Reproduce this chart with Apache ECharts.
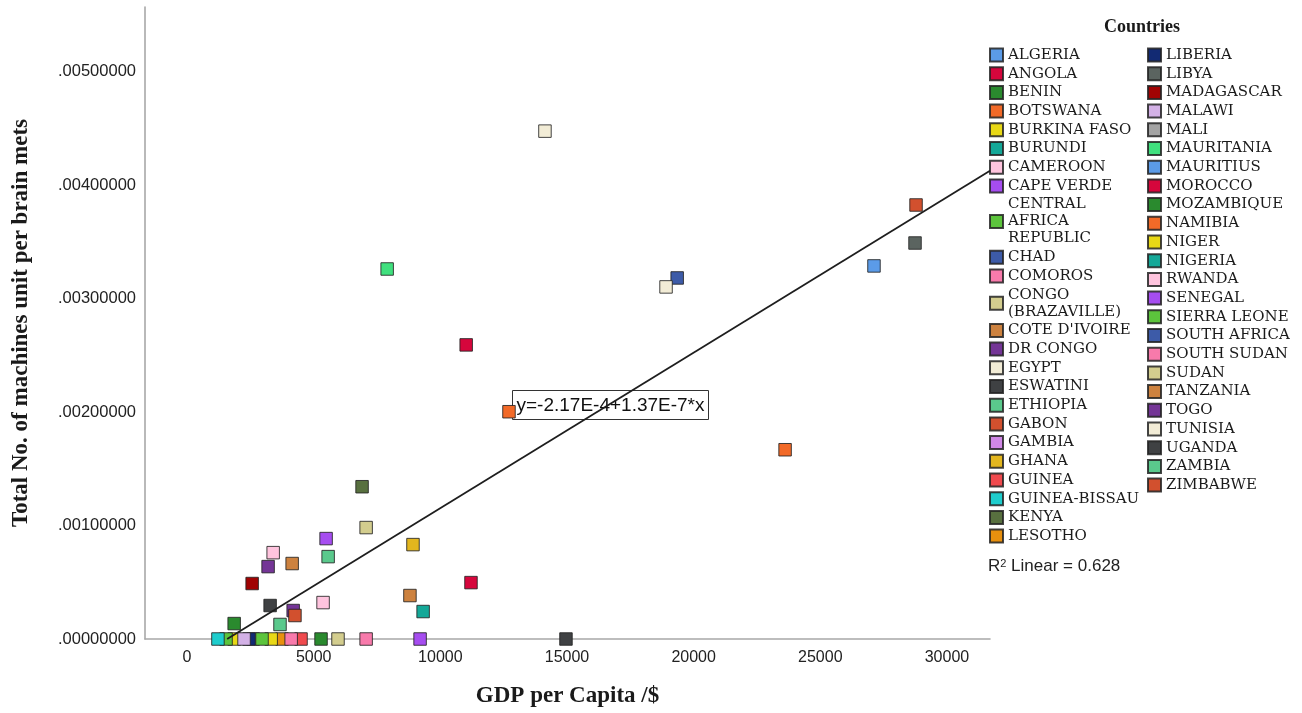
<!DOCTYPE html>
<html>
<head>
<meta charset="utf-8">
<script src="https://cdn.jsdelivr.net/npm/echarts@6/dist/echarts.min.js"></script>
<style>
html,body{margin:0;padding:0;background:#fff;}
#chart{width:1302px;height:713px;}
</style>
</head>
<body>
<div id="chart"></div>
<script>
// ---- data ----
const countries = ['ALGERIA','ANGOLA','BENIN','BOTSWANA','BURKINA FASO','BURUNDI','CAMEROON','CAPE VERDE',
  'CENTRAL AFRICA REPUBLIC','CHAD','COMOROS','CONGO (BRAZAVILLE)',"COTE D'IVOIRE",'DR CONGO','EGYPT','ESWATINI',
  'ETHIOPIA','GABON','GAMBIA','GHANA','GUINEA','GUINEA-BISSAU','KENYA','LESOTHO',
  'LIBERIA','LIBYA','MADAGASCAR','MALAWI','MALI','MAURITANIA','MAURITIUS','MOROCCO',
  'MOZAMBIQUE','NAMIBIA','NIGER','NIGERIA','RWANDA','SENEGAL','SIERRA LEONE','SOUTH AFRICA',
  'SOUTH SUDAN','SUDAN','TANZANIA','TOGO','TUNISIA','UGANDA','ZAMBIA','ZIMBABWE'];
const legendLabels = ['ALGERIA','ANGOLA','BENIN','BOTSWANA','BURKINA FASO','BURUNDI','CAMEROON','CAPE VERDE',
  'CENTRAL\nAFRICA\nREPUBLIC','CHAD','COMOROS','CONGO\n(BRAZAVILLE)',"COTE D'IVOIRE",'DR CONGO','EGYPT','ESWATINI',
  'ETHIOPIA','GABON','GAMBIA','GHANA','GUINEA','GUINEA-BISSAU','KENYA','LESOTHO',
  'LIBERIA','LIBYA','MADAGASCAR','MALAWI','MALI','MAURITANIA','MAURITIUS','MOROCCO',
  'MOZAMBIQUE','NAMIBIA','NIGER','NIGERIA','RWANDA','SENEGAL','SIERRA LEONE','SOUTH AFRICA',
  'SOUTH SUDAN','SUDAN','TANZANIA','TOGO','TUNISIA','UGANDA','ZAMBIA','ZIMBABWE'];
// GDP per capita ($)
const gdpPerCapita = [null,11210,1860,23610,1860,null,3400,5490,
  1540,null,7070,5960,4150,4190,14130,14960,
  3670,28780,2610,8920,4500,1220,6910,3750,
  2450,28740,2570,2250,null,7900,27120,11020,
  5290,12710,3320,9320,5370,9200,2960,19350,
  4110,7070,8800,3200,18910,3280,5570,4260];
// Total No. of machines unit per brain mets
const machinesPerMets = [null,0.000497,0.000136,0.001668,0,null,0.000761,0.000885,
  0,null,0,0,0.000665,0.000251,0.004476,0,
  0.000128,0.003825,0,0.000832,0,0,0.001342,0,
  0,0.003490,0.000489,0,null,0.003261,0.003288,0.002592,
  0,0.002003,0,0.000242,0.000321,0,0,0.003182,
  0,0.000982,0.000383,0.000638,0.003103,0.000295,0.000726,0.000207];
const xTicks = [0,5000,10000,15000,20000,25000,30000];
const yTicks = [0,0.001,0.002,0.003,0.004,0.005];
const fitIntercept = -2.17e-4;
const fitSlope = 1.37e-7;
const rSquared = 0.628;

// ---- styles ----
const palette = ['#5b9be8','#d6063c','#2a8a2e','#f26a28','#e8d816','#14a898','#ffc4de','#a64df0','#5cc43c','#3d5ba8',
  '#f87aab','#d3cd8e','#cd823f','#743596','#f2ecd6','#3f4143','#5ac98c','#d2502e','#d087e6','#e3b61e',
  '#f04a4e','#1ecdcd','#58703f','#e8900e','#122a73','#5b6460','#a00303','#d3b1e6','#a3a3a3','#40e07e'];
const xMin = -1660, xMax = 31700, yMin = 0, yMax = 0.00557;

const labelOf = {};
countries.forEach((c,i)=>{ labelOf[c] = legendLabels[i]; });

const series = countries.map((c,i)=>({
  name: c,
  type: 'scatter',
  symbol: 'rect',
  symbolSize: 12.5,
  z: 3,
  itemStyle: { color: palette[i % palette.length], borderColor: 'rgba(35,35,35,0.85)', borderWidth: 1, opacity: 1 },
  emphasis: { disabled: true },
  data: gdpPerCapita[i] == null ? [] : [[gdpPerCapita[i], machinesPerMets[i]]]
}));
const fitX0 = -fitIntercept / fitSlope;
series.push({
  name: 'fit', type: 'line', silent: true, z: 5, symbol: 'none',
  lineStyle: { color: '#1e1e1e', width: 1.8 },
  data: [[fitX0, fitIntercept + fitSlope * fitX0], [xMax, fitIntercept + fitSlope * xMax]]
});

const legendCommon = {
  orient: 'vertical', itemWidth: 13, itemHeight: 13, itemGap: 1.7, icon: 'rect', selectedMode: false,
  padding: 0,
  textStyle: { fontFamily: 'DejaVu Serif', fontSize: 15, color: '#1a1a1a', lineHeight: 17 },
  formatter: n => labelOf[n]
};

const chart = echarts.init(document.getElementById('chart'), null, { renderer: 'canvas' });
chart.setOption({
  animation: false,
  backgroundColor: '#fff',
  grid: { left: 145, right: 312, top: 7, bottom: 73.5, containLabel: false },
  xAxis: {
    type: 'value', min: xMin, max: xMax,
    name: 'GDP per Capita /$', nameLocation: 'middle', nameGap: 46,
    nameTextStyle: { fontFamily: 'Liberation Serif', fontWeight: 'bold', fontSize: 23, color: '#1a1a1a' },
    axisLine: { show: true, onZero: false, lineStyle: { color: '#a8a8a8', width: 1.6 } },
    axisTick: { show: false },
    splitLine: { show: false },
    axisLabel: { customValues: xTicks, margin: 11, fontFamily: 'Liberation Sans', fontSize: 16, color: '#222',
      formatter: v => String(v) }
  },
  yAxis: {
    type: 'value', min: yMin, max: yMax,
    name: 'Total No. of machines unit per brain mets', nameLocation: 'middle', nameGap: 112,
    nameTextStyle: { fontFamily: 'Liberation Serif', fontWeight: 'bold', fontSize: 23, color: '#1a1a1a' },
    axisLine: { show: true, onZero: false, lineStyle: { color: '#a8a8a8', width: 1.6 } },
    axisTick: { show: false },
    splitLine: { show: false },
    axisLabel: { customValues: yTicks, margin: 9, fontFamily: 'Liberation Sans', fontSize: 16.5, color: '#222',
      formatter: v => '.' + v.toFixed(8).split('.')[1] }
  },
  legend: [
    Object.assign({ left: 989, top: 46.5, data: countries.slice(0, 24) }, legendCommon),
    Object.assign({ left: 1147, top: 46.5, data: countries.slice(24) }, legendCommon)
  ],
  graphic: [
    { type: 'text', left: 1104, top: 18, z: 50,
      style: { text: 'Countries', font: 'bold 18px "Liberation Serif"', fill: '#1a1a1a' } },
    { type: 'group', left: 512, top: 390, z: 100, children: [
      { type: 'rect', shape: { x: 0, y: 0, width: 196, height: 29 },
        style: { fill: '#fff', stroke: '#333', lineWidth: 1 } },
      { type: 'text', x: 98, y: 15,
        style: { text: 'y=' + fitIntercept.toExponential(2).replace('e', 'E') + '+' + fitSlope.toExponential(2).replace('e', 'E') + '*x',
          font: '19px "Liberation Sans"', fill: '#111', align: 'center', verticalAlign: 'middle' } }
    ] },
    { type: 'text', left: 988, top: 558, z: 50,
      style: { text: '{a|R}{s|2}{a| Linear = ' + rSquared.toFixed(3) + '}',
        rich: { a: { font: '17px "Liberation Sans"', fill: '#222', verticalAlign: 'bottom' },
                s: { font: '11px "Liberation Sans"', fill: '#222', verticalAlign: 'top', padding: [0,0,6,0] } } } }
  ],
  series: series
});
</script>
</body>
</html>
